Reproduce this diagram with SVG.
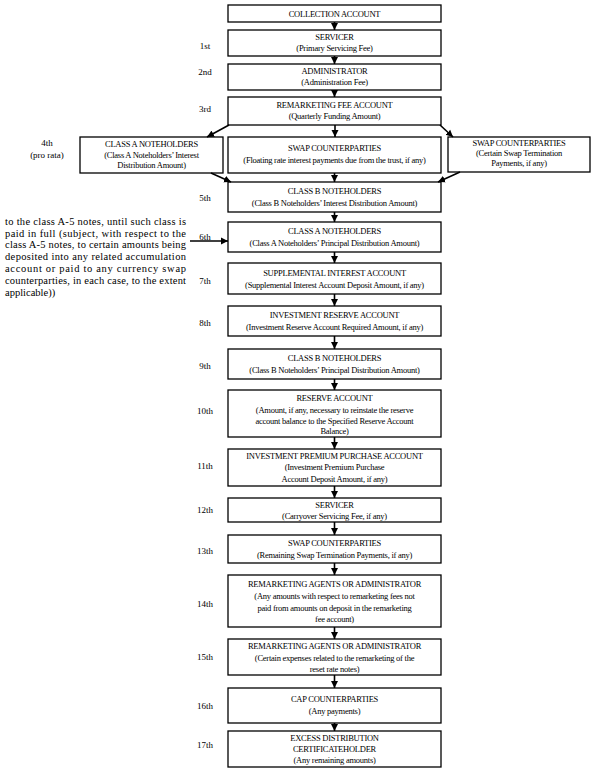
<svg xmlns="http://www.w3.org/2000/svg" width="616" height="778" viewBox="0 0 616 778">
<defs>
<marker id="ah" markerUnits="userSpaceOnUse" markerWidth="8" markerHeight="8" refX="7" refY="4" orient="auto">
<path d="M0,0.5 L7,4 L0,7.5 Z" fill="#000"/>
</marker>
<style>
.box{fill:#fff;stroke:#000;stroke-width:1.3}
.t{font-family:"Liberation Serif","Times New Roman",serif;font-size:8.5px;text-anchor:middle;fill:#000;letter-spacing:-0.25px}
.r{font-family:"Liberation Serif","Times New Roman",serif;font-size:9px;text-anchor:middle;fill:#000}
.side{font-family:"Liberation Serif","Times New Roman",serif;font-size:10.5px;fill:#000}
.c line{stroke:#000;stroke-width:1.6;marker-end:url(#ah)}
</style>
</defs>
<rect width="616" height="778" fill="#fff"/>

<g id="ranks">
<text class="r" x="205" y="49">1st</text>
<text class="r" x="205" y="75">2nd</text>
<text class="r" x="205" y="112">3rd</text>
<text class="r" x="47" y="146">4th</text>
<text class="r" x="47" y="158">(pro rata)</text>
<text class="r" x="205" y="201">5th</text>
<text class="r" x="205" y="240">6th</text>
<text class="r" x="205" y="284">7th</text>
<text class="r" x="205" y="326">8th</text>
<text class="r" x="205" y="369">9th</text>
<text class="r" x="205" y="414">10th</text>
<text class="r" x="205" y="469">11th</text>
<text class="r" x="205" y="513">12th</text>
<text class="r" x="205" y="554">13th</text>
<text class="r" x="205" y="607">14th</text>
<text class="r" x="205" y="660">15th</text>
<text class="r" x="205" y="709">16th</text>
<text class="r" x="205" y="748">17th</text>
</g>

<g id="side-note">
<text class="side" x="5" y="225" textLength="181" lengthAdjust="spacing">to the class A-5 notes, until such class is</text>
<text class="side" x="5" y="237" textLength="181" lengthAdjust="spacing">paid in full (subject, with respect to the</text>
<text class="side" x="5" y="248" textLength="181" lengthAdjust="spacing">class A-5 notes, to certain amounts being</text>
<text class="side" x="5" y="260" textLength="181" lengthAdjust="spacing">deposited into any related accumulation</text>
<text class="side" x="5" y="272" textLength="181" lengthAdjust="spacing">account or paid to any currency swap</text>
<text class="side" x="5" y="284" textLength="181" lengthAdjust="spacing">counterparties, in each case, to the extent</text>
<text class="side" x="5" y="296">applicable))</text>
</g>

<g id="n0"><rect class="box" x="228" y="5" width="213" height="17"/>
<text class="t" x="334.5" y="16.5">COLLECTION ACCOUNT</text></g>
<g id="n1"><rect class="box" x="228" y="30" width="213" height="26"/>
<text class="t" x="334.5" y="40">SERVICER</text><text class="t" x="334.5" y="50.5">(Primary Servicing Fee)</text></g>
<g id="n2"><rect class="box" x="228" y="64" width="213" height="26"/>
<text class="t" x="334.5" y="74">ADMINISTRATOR</text><text class="t" x="334.5" y="85">(Administration Fee)</text></g>
<g id="n3"><rect class="box" x="228" y="97" width="213" height="28"/>
<text class="t" x="334.5" y="108">REMARKETING FEE ACCOUNT</text><text class="t" x="334.5" y="119">(Quarterly Funding Amount)</text></g>
<g id="n4a"><rect class="box" x="80" y="137" width="143" height="36"/>
<text class="t" x="151.5" y="147">CLASS A NOTEHOLDERS</text><text class="t" x="151.5" y="157.5">(Class A Noteholders’ Interest</text><text class="t" x="151.5" y="168">Distribution Amount)</text></g>
<g id="n4b"><rect class="box" x="228" y="137" width="213" height="36"/>
<text class="t" x="334.5" y="151">SWAP COUNTERPARTIES</text><text class="t" x="334.5" y="163">(Floating rate interest payments due from  the trust, if any)</text></g>
<g id="n4c"><rect class="box" x="448" y="137" width="142" height="35"/>
<text class="t" x="519" y="146">SWAP COUNTERPARTIES</text><text class="t" x="519" y="156">(Certain Swap Termination</text><text class="t" x="519" y="166">Payments, if any)</text></g>
<g id="n5"><rect class="box" x="228" y="182" width="213" height="30"/>
<text class="t" x="334.5" y="194">CLASS B NOTEHOLDERS</text><text class="t" x="334.5" y="206">(Class B Noteholders’ Interest Distribution Amount)</text></g>
<g id="n6"><rect class="box" x="228" y="222" width="213" height="30"/>
<text class="t" x="334.5" y="234">CLASS A NOTEHOLDERS</text><text class="t" x="334.5" y="246">(Class A Noteholders’ Principal Distribution Amount)</text></g>
<g id="n7"><rect class="box" x="228" y="263" width="213" height="31"/>
<text class="t" x="334.5" y="276">SUPPLEMENTAL INTEREST ACCOUNT</text><text class="t" x="334.5" y="288">(Supplemental Interest Account Deposit Amount, if any)</text></g>
<g id="n8"><rect class="box" x="228" y="306" width="213" height="30"/>
<text class="t" x="334.5" y="318">INVESTMENT RESERVE ACCOUNT</text><text class="t" x="334.5" y="330">(Investment Reserve Account Required Amount, if any)</text></g>
<g id="n9"><rect class="box" x="228" y="349" width="213" height="30"/>
<text class="t" x="334.5" y="361">CLASS B NOTEHOLDERS</text><text class="t" x="334.5" y="373">(Class B Noteholders’ Principal Distribution Amount)</text></g>
<g id="n10"><rect class="box" x="228" y="390" width="213" height="47"/>
<text class="t" x="334.5" y="401">RESERVE ACCOUNT</text><text class="t" x="334.5" y="413">(Amount, if any, necessary to reinstate the reserve</text><text class="t" x="334.5" y="424">account balance to the Specified Reserve Account</text><text class="t" x="334.5" y="434">Balance)</text></g>
<g id="n11"><rect class="box" x="228" y="449" width="213" height="37"/>
<text class="t" x="334.5" y="459">INVESTMENT PREMIUM PURCHASE ACCOUNT</text><text class="t" x="334.5" y="470">(Investment Premium Purchase</text><text class="t" x="334.5" y="482">Account Deposit Amount, if any)</text></g>
<g id="n12"><rect class="box" x="228" y="498" width="213" height="24"/>
<text class="t" x="334.5" y="508">SERVICER</text><text class="t" x="334.5" y="519">(Carryover Servicing Fee, if any)</text></g>
<g id="n13"><rect class="box" x="228" y="535" width="213" height="28"/>
<text class="t" x="334.5" y="546">SWAP COUNTERPARTIES</text><text class="t" x="334.5" y="558">(Remaining Swap Termination Payments, if any)</text></g>
<g id="n14"><rect class="box" x="228" y="575" width="213" height="52"/>
<text class="t" x="334.5" y="587">REMARKETING AGENTS  OR ADMINISTRATOR</text><text class="t" x="334.5" y="599">(Any amounts with respect to remarketing fees not</text><text class="t" x="334.5" y="611">paid from  amounts on deposit in the remarketing</text><text class="t" x="334.5" y="622">fee account)</text></g>
<g id="n15"><rect class="box" x="228" y="639" width="213" height="36"/>
<text class="t" x="334.5" y="649">REMARKETING AGENTS OR ADMINISTRATOR</text><text class="t" x="334.5" y="661">(Certain expenses related to the remarketing of the</text><text class="t" x="334.5" y="672">reset rate notes)</text></g>
<g id="n16"><rect class="box" x="228" y="688" width="213" height="35"/>
<text class="t" x="334.5" y="702">CAP COUNTERPARTIES</text><text class="t" x="334.5" y="714">(Any payments)</text></g>
<g id="n17"><rect class="box" x="228" y="731" width="213" height="36"/>
<text class="t" x="334.5" y="741">EXCESS DISTRIBUTION</text><text class="t" x="334.5" y="752">CERTIFICATEHOLDER</text><text class="t" x="334.5" y="763">(Any remaining amounts)</text></g>

<g id="connectors" class="c">
<line x1="334.5" y1="22" x2="334.5" y2="30"/>
<line x1="334.5" y1="56" x2="334.5" y2="64"/>
<line x1="334.5" y1="90" x2="334.5" y2="97"/>
<line x1="335" y1="125" x2="335" y2="137"/>
<line x1="334.5" y1="173" x2="334.5" y2="182"/>
<line x1="334.5" y1="212" x2="334.5" y2="222"/>
<line x1="334.5" y1="252" x2="334.5" y2="263"/>
<line x1="334.5" y1="294" x2="334.5" y2="306"/>
<line x1="334.5" y1="336" x2="334.5" y2="349"/>
<line x1="334.5" y1="379" x2="334.5" y2="390"/>
<line x1="334.5" y1="437" x2="334.5" y2="449"/>
<line x1="334.5" y1="486" x2="334.5" y2="498"/>
<line x1="334.5" y1="522" x2="334.5" y2="535"/>
<line x1="334.5" y1="563" x2="334.5" y2="575"/>
<line x1="334.5" y1="627" x2="334.5" y2="639"/>
<line x1="334.5" y1="675" x2="334.5" y2="688"/>
<line x1="334.5" y1="723" x2="334.5" y2="731"/>
<line x1="229" y1="125" x2="207" y2="137"/>
<line x1="440" y1="125" x2="453" y2="137"/>
<line x1="211" y1="173" x2="231" y2="182"/>
<line x1="460" y1="172" x2="438" y2="182"/>
<line x1="190" y1="241" x2="228" y2="241"/>
</g>
</svg>
